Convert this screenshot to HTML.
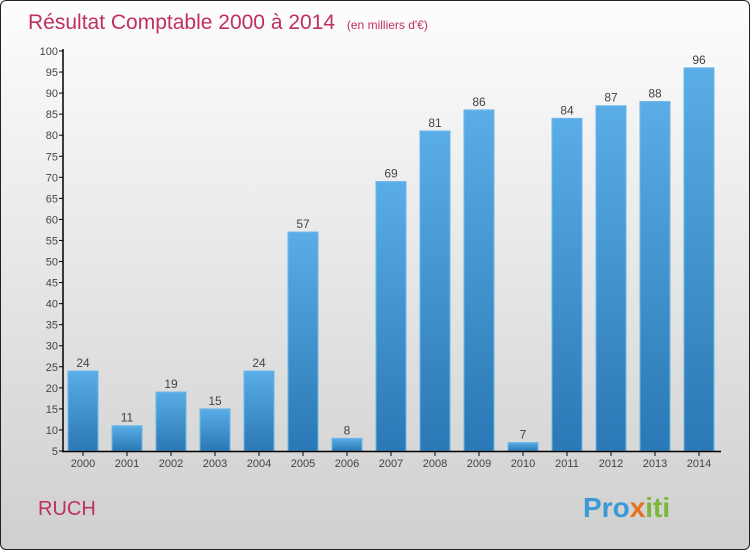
<!DOCTYPE html>
<html><head><meta charset="utf-8"><style>
body{margin:0;width:750px;height:550px;overflow:hidden;font-family:"Liberation Sans",sans-serif}
#frame{position:absolute;left:0;top:0;width:748px;height:548px;border:1px solid #222;border-radius:6px;background:linear-gradient(#fdfdfd,#e6e6e6 50%,#cfcfcf)}
</style></head><body>
<div id="frame">
<svg width="750" height="550" id="chart">
<defs><linearGradient id="bg" x1="0" y1="0" x2="0" y2="1"><stop offset="0" stop-color="#5aade6"/><stop offset="1" stop-color="#2a78b5"/></linearGradient></defs>
<text x="27" y="28" font-size="21" fill="#c0305f">Résultat Comptable 2000 à 2014 <tspan font-size="12" dx="6">(en milliers d'€)</tspan></text>
<g id="yaxis"></g><g id="bars"></g><g id="xaxis"></g>
<text x="37" y="514" font-size="20" fill="#c0305f">RUCH</text>
<text x="582" y="516" font-size="28" font-weight="bold" fill="#3a9ad6">Pro<tspan fill="#e8701e">x</tspan><tspan fill="#7ab838">iti</tspan></text>
</svg></div>
<script>
const categories=["2000","2001","2002","2003","2004","2005","2006","2007","2008","2009","2010","2011","2012","2013","2014"];
const values=[24,11,19,15,24,57,8,69,81,86,7,84,87,88,96];
const yTicks=[5,10,15,20,25,30,35,40,45,50,55,60,65,70,75,80,85,90,95,100];
const NS="http://www.w3.org/2000/svg";
const y=v=>450-(v-5)*400/95;
const x=i=>82+i*44;
function mk(t,a,p){const e=document.createElementNS(NS,t);for(const k in a)e.setAttribute(k,a[k]);p.appendChild(e);return e;}
const ya=document.getElementById('yaxis'),ba=document.getElementById('bars'),xa=document.getElementById('xaxis');
let l=mk('line',{x1:62,y1:48,x2:62,y2:451,stroke:'#000','stroke-width':1.5},ya);


l=mk('line',{x1:61,y1:450.5,x2:720,y2:450.5,stroke:'#000','stroke-width':1.5},xa);


yTicks.forEach(v=>{
 mk('line',{x1:58,y1:y(v),x2:62,y2:y(v),stroke:'#000'},ya);
 const t=mk('text',{x:57,y:y(v)+4,'font-size':11,'text-anchor':'end',fill:'#444'},ya);t.textContent=v;
 
 
});
categories.forEach((c,i)=>{
 const r=mk('rect',{x:x(i)-15,y:y(values[i]),width:30,height:450-y(values[i]),fill:'url(#bg)',stroke:'#6bb8ea','stroke-width':1},ba);
 
 
 const v=mk('text',{x:x(i),y:y(values[i])-4,'font-size':12,'text-anchor':'middle',fill:'#444'},ba);v.textContent=values[i];
 
 
 mk('line',{x1:x(i),y1:450,x2:x(i),y2:455,stroke:'#000'},xa);
 const t=mk('text',{x:x(i),y:466,'font-size':11,'text-anchor':'middle',fill:'#444'},xa);t.textContent=c;
 
 
});
</script>
</body></html>
